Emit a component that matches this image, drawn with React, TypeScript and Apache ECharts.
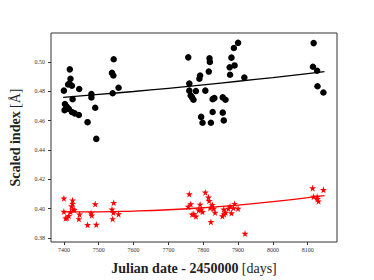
import React, { useEffect, useRef } from "react";
import * as echarts from "echarts";

const xTicks = [7400, 7500, 7600, 7700, 7800, 7900, 8000, 8100];
const yTicks = [0.38, 0.4, 0.42, 0.44, 0.46, 0.48, 0.5];

const blackX = [7400, 7417, 7419, 7416, 7423, 7412, 7444, 7425, 7403, 7408, 7402, 7414, 7423, 7431, 7443, 7468, 7479, 7479, 7490, 7493, 7540, 7538, 7542, 7543, 7557,
  7757, 7760, 7760, 7764, 7768, 7772, 7779, 7789, 7791, 7794, 7798, 7806, 7816, 7818, 7819, 7822, 7827, 7832, 7827, 7856, 7864, 7856, 7859, 7876, 7877, 7881, 7890, 7888, 7900, 7918,
  8117, 8115, 8127, 8128, 8145];
const blackY = [0.4804, 0.4949, 0.4885, 0.4852, 0.4837, 0.4846, 0.4815, 0.4746, 0.4713, 0.4695, 0.4671, 0.468, 0.4658, 0.4649, 0.4638, 0.4589, 0.4781, 0.4758, 0.4687, 0.4475, 0.4786, 0.4925, 0.4907, 0.5018, 0.4824,
  0.5031, 0.4852, 0.4804, 0.4771, 0.4758, 0.4742, 0.4801, 0.4885, 0.4907, 0.4625, 0.4585, 0.4804, 0.4934, 0.5025, 0.5, 0.4585, 0.4746, 0.4753, 0.4658, 0.4758, 0.4742, 0.4654, 0.4601, 0.4963, 0.4912, 0.5029, 0.4976, 0.5095, 0.513, 0.4894,
  0.5128, 0.4967, 0.494, 0.4834, 0.4791];

const redX = [7400, 7400, 7405, 7409, 7414, 7419, 7422, 7425, 7425, 7426, 7430, 7445, 7443, 7468, 7478, 7480, 7490, 7493, 7538, 7540, 7543, 7542, 7557,
  7757, 7760, 7764, 7768, 7773, 7779, 7787, 7791, 7794, 7798, 7806, 7815, 7817, 7820, 7822, 7826, 7830, 7834, 7855, 7860, 7859, 7864, 7872, 7877, 7881, 7887, 7890, 7900, 7920,
  8114, 8117, 8127, 8128, 8131, 8145];
const redY = [0.407, 0.398, 0.3934, 0.3938, 0.3951, 0.3978, 0.4017, 0.4057, 0.4033, 0.3995, 0.3991, 0.396, 0.3929, 0.3889, 0.3969, 0.3954, 0.4031, 0.3891, 0.3995, 0.3929, 0.404, 0.3973, 0.3962,
  0.4013, 0.4099, 0.4031, 0.396, 0.3964, 0.3947, 0.3989, 0.4028, 0.3995, 0.3978, 0.411, 0.4077, 0.4053, 0.4004, 0.3909, 0.4026, 0.4, 0.3973, 0.3949, 0.3962, 0.3995, 0.3973, 0.4, 0.4015, 0.3969, 0.4004, 0.4033, 0.4, 0.383,
  0.4139, 0.4081, 0.4081, 0.4066, 0.405, 0.4128];

const trendX = [7398, 7500, 7600, 7700, 7800, 7900, 8000, 8100, 8148];
const blackTrendY = [0.4758, 0.4778, 0.4798, 0.482, 0.4843, 0.4868, 0.4893, 0.492, 0.4933];
const redTrendY = [0.3978, 0.3978, 0.3983, 0.3992, 0.4006, 0.4024, 0.4047, 0.4074, 0.4088];

const STAR = "path://M50,0 L61,35 L98,35 L68,57 L79,91 L50,70 L21,91 L32,57 L2,35 L39,35 Z";
const SERIF = "'Liberation Serif', 'DejaVu Serif', serif";

export default function App() {
  const ref = useRef<HTMLDivElement>(null);
  useEffect(() => {
    if (!ref.current) return;
    const chart = echarts.init(ref.current, undefined, { renderer: "svg" });
    const zip = (xs: number[], ys: number[]) => xs.map((x, i) => [x, ys[i]]);
    const nameRich = {
      b: { fontFamily: SERIF, fontWeight: "bold", fontSize: 14, color: "#222" },
      r: { fontFamily: SERIF, fontSize: 14, color: "#222" },
    };
    chart.setOption({
      animation: false,
      backgroundColor: "#fff",
      grid: { left: 47, right: 37, top: 33, bottom: 32, show: true, borderColor: "#333", borderWidth: 1 },
      xAxis: {
        type: "value",
        min: 7363,
        max: 8184,
        splitLine: { show: false },
        axisLine: { show: false },
        axisTick: { show: true, length: 3, lineStyle: { color: "#333" }, customValues: xTicks },
        axisLabel: {
          customValues: xTicks,
          fontSize: 6,
          color: "#333",
          fontFamily: SERIF,
          margin: 5,
          formatter: (v: number) => String(v),
        },
        name: "{b|Julian date - 2450000} {r|[days]}",
        nameLocation: "middle",
        nameGap: 19,
        nameTextStyle: { rich: nameRich },
      },
      yAxis: {
        type: "value",
        min: 0.3772,
        max: 0.5197,
        splitLine: { show: false },
        axisLine: { show: false },
        axisTick: { show: true, length: 3, lineStyle: { color: "#333" }, customValues: yTicks },
        axisLabel: {
          customValues: yTicks,
          fontSize: 6,
          color: "#333",
          fontFamily: SERIF,
          margin: 6,
          formatter: (v: number) => v.toFixed(2),
        },
        name: "{b|Scaled index} {r|[Å]}",
        nameLocation: "middle",
        nameRotate: 90,
        nameGap: 29,
        nameTextStyle: { rich: nameRich },
      },
      series: [
        {
          type: "scatter",
          data: zip(blackX, blackY),
          symbol: "circle",
          symbolSize: 6.5,
          itemStyle: { color: "#000", opacity: 1 },
        },
        {
          type: "scatter",
          data: zip(redX, redY),
          symbol: STAR,
          symbolSize: 7,
          itemStyle: { color: "#ff0000", opacity: 1 },
        },
        {
          type: "line",
          data: zip(trendX, blackTrendY),
          showSymbol: false,
          smooth: true,
          lineStyle: { color: "#000", width: 1.3 },
        },
        {
          type: "line",
          data: zip(trendX, redTrendY),
          showSymbol: false,
          smooth: true,
          lineStyle: { color: "#ff0000", width: 1.3 },
        },
      ],
    });
    return () => chart.dispose();
  }, []);
  return <div ref={ref} style={{ width: 374, height: 280, position: "absolute", left: 0, top: 0 }} />;
}
